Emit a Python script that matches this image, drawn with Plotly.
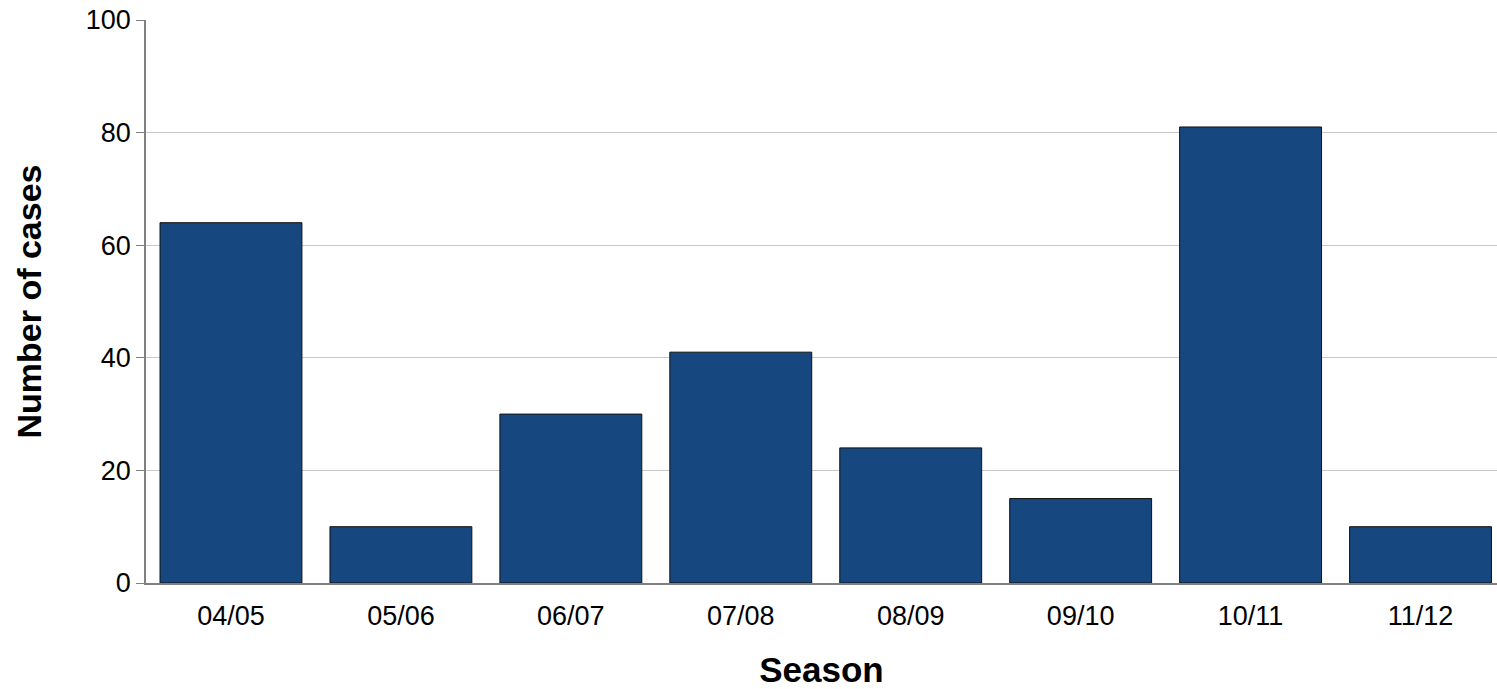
import plotly.graph_objects as go

seasons = ["04/05", "05/06", "06/07", "07/08", "08/09", "09/10", "10/11", "11/12"]
cases = [64, 10, 30, 41, 24, 15, 81, 10]

fig = go.Figure(go.Bar(
    x=seasons, y=cases,
    marker=dict(color="#16477E", line=dict(color="#111111", width=1)),
))

fig.update_layout(
    width=1497, height=689,
    margin=dict(l=146, r=0, t=20, b=106),
    paper_bgcolor="white", plot_bgcolor="white",
    bargap=0.165,
    showlegend=False,
    font=dict(family="Liberation Sans, Arial, sans-serif", color="#000000"),
)
fig.update_xaxes(
    type="category", range=[-0.5, 7.45],
    showline=True, linecolor="#808080", linewidth=2,
    ticks="", tickfont=dict(size=27), ticklabelstandoff=8,
    title=dict(text="<b>Season</b>", font=dict(size=35), standoff=29),
    showgrid=False,
)
fig.update_yaxes(
    range=[0, 100], dtick=20,
    showline=True, linecolor="#808080", linewidth=1.5,
    ticks="outside", ticklen=8, tickcolor="#808080",
    tickfont=dict(size=27), ticklabeloverflow="allow",
    showgrid=True, gridcolor="#C8C8C8", gridwidth=1,
    zeroline=False,
    title=dict(text="<b>Number of cases</b>", font=dict(size=34), standoff=34),
)

fig.write_html(
    "out.html",
    config={"displayModeBar": False},
    post_script="document.body.style.margin='0';document.body.style.overflow='hidden';",
)
